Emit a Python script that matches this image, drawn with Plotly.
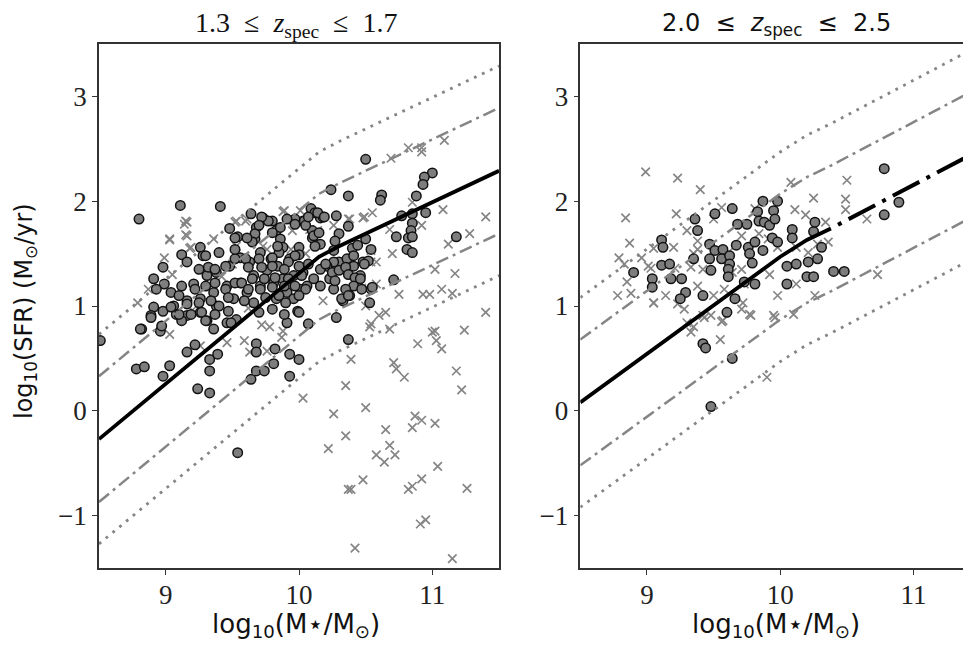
import plotly.graph_objects as go
from plotly.subplots import make_subplots

# ---- 1.3 <= z <= 1.7 panel ----
lo_circ = [
    (8.80, 1.83), (9.11, 1.96), (9.41, 1.95), (10.50, 2.40), (11.00, 2.27), (10.94, 2.23), (10.93, 2.16),
    (10.24, 2.11), (10.37, 2.05), (10.62, 2.06), (10.61, 2.01), (10.88, 2.05), (10.77, 1.86), (10.85, 1.88),
    (10.95, 1.89), (10.85, 1.79), (10.84, 1.72), (10.73, 1.66), (10.82, 1.65), (10.85, 1.66), (10.81, 1.54),
    (10.85, 1.51), (11.18, 1.66), (10.71, 1.25), (10.37, 1.76), (10.30, 1.69), (10.27, 1.62), (10.40, 1.55),
    (10.54, 1.54), (10.48, 1.42), (10.46, 1.29), (10.38, 1.37), (10.38, 1.10), (10.33, 1.05), (10.53, 1.03),
    (10.54, 1.16), (10.28, 1.86), (10.09, 1.93), (10.12, 1.89), (10.16, 1.84), (10.18, 1.85), (10.03, 1.81),
    (9.97, 1.83), (9.91, 1.83), (9.73, 1.84), (9.80, 1.81), (9.64, 1.88), (9.48, 1.74), (9.54, 1.66),
    (9.68, 1.75), (9.67, 1.64), (9.83, 1.72), (9.86, 1.64), (9.88, 1.56), (10.10, 1.72), (10.10, 1.65),
    (10.16, 1.59), (10.00, 1.56), (10.00, 1.49), (9.93, 1.45), (9.26, 1.56), (9.28, 1.48), (9.12, 1.49),
    (9.40, 1.51), (8.98, 1.37), (8.91, 1.26), (8.99, 1.21), (8.93, 1.16), (9.04, 1.13), (9.12, 1.19),
    (9.21, 1.21), (9.31, 1.29), (9.38, 1.32), (9.48, 1.38), (9.56, 1.46), (9.63, 1.42), (9.71, 1.51),
    (9.79, 1.45), (9.84, 1.38), (9.76, 1.34), (9.66, 1.29), (9.56, 1.22), (9.46, 1.19), (9.36, 1.13),
    (9.26, 1.07), (9.16, 1.05), (9.06, 1.00), (8.91, 0.99), (8.89, 0.91), (8.98, 0.95), (9.08, 0.92),
    (9.16, 0.91), (9.26, 0.94), (9.38, 1.00), (9.51, 1.07), (9.61, 1.13), (9.71, 1.19), (9.81, 1.22),
    (9.88, 1.26), (9.96, 1.29), (10.03, 1.32), (10.06, 1.19), (10.01, 1.16), (9.91, 1.13), (9.83, 1.07),
    (9.96, 1.07), (9.99, 0.95), (10.23, 1.26), (10.26, 1.35), (10.30, 1.42), (10.41, 1.38), (10.36, 1.45),
    (10.26, 1.42), (10.21, 1.38), (10.16, 1.35), (10.11, 1.26), (10.16, 1.19), (10.26, 1.16), (10.28, 0.89),
    (10.07, 0.83), (10.26, 1.53),
    (8.51, 0.67), (8.82, 0.78), (8.78, 0.40), (8.84, 0.42), (8.98, 0.33), (9.03, 0.43), (8.96, 0.76),
    (9.12, 0.86), (9.16, 0.56), (9.22, 0.63), (9.24, 0.21), (9.33, 0.17), (9.33, 0.38), (9.33, 0.49),
    (9.39, 0.54), (9.31, 0.86), (9.36, 0.78), (9.46, 0.84), (9.53, 0.87), (9.54, -0.40), (9.64, 0.30),
    (9.68, 0.38), (9.74, 0.38), (9.68, 0.64), (9.68, 0.56), (9.81, 0.45), (9.82, 0.59), (9.93, 0.33),
    (9.93, 0.54), (10.00, 0.49), (9.91, 0.84), (9.89, 0.92), (10.00, 0.94), (10.37, 0.68),
    (9.52, 1.65), (9.30, 1.48), (9.16, 1.42), (9.25, 1.35), (9.32, 1.37), (9.37, 1.35), (9.45, 1.38),
    (9.52, 1.45), (9.22, 1.16), (9.30, 1.19), (9.37, 1.22), (9.45, 1.16), (9.52, 1.22), (9.10, 1.10),
    (9.16, 1.02), (9.25, 1.03), (9.34, 1.05), (9.40, 1.00), (9.47, 1.08), (9.04, 0.99), (9.10, 0.92),
    (9.19, 0.92), (9.27, 0.94), (9.37, 0.92), (9.47, 0.95), (8.89, 0.89), (8.97, 0.81), (8.81, 0.78),
    (9.30, 0.86), (9.49, 0.84), (9.52, 1.54),
    (9.97, 1.78), (10.04, 1.81), (10.05, 1.77), (10.14, 1.89), (10.19, 1.85), (10.07, 1.85), (9.77, 1.81),
    (9.86, 1.75), (10.11, 1.67), (10.15, 1.70), (10.12, 1.57), (9.67, 1.69), (9.65, 1.61), (9.85, 1.51),
    (9.97, 1.48), (9.92, 1.42), (9.80, 1.46), (9.70, 1.45), (9.60, 1.45), (9.62, 1.37), (9.72, 1.37),
    (9.80, 1.38), (9.89, 1.35), (10.00, 1.38), (10.07, 1.40), (10.02, 1.29), (9.92, 1.26), (9.82, 1.27),
    (9.74, 1.26), (9.65, 1.26), (9.57, 1.22), (9.62, 1.16), (9.71, 1.16), (9.80, 1.18), (9.89, 1.19),
    (9.97, 1.19), (10.05, 1.16), (10.00, 1.10), (9.85, 1.10), (9.75, 1.08), (9.66, 1.03), (9.59, 1.05),
    (9.70, 0.94), (9.80, 0.97), (9.90, 1.03), (10.20, 1.40), (10.25, 1.32), (10.30, 1.34), (10.35, 1.37),
    (10.37, 1.30), (10.27, 1.24), (10.42, 1.27), (10.46, 1.26), (10.41, 1.19), (10.35, 1.16), (10.32, 1.07),
    (10.37, 1.10), (10.47, 1.16), (10.55, 1.18), (10.52, 1.43), (10.49, 1.40), (10.41, 1.48), (10.44, 1.58),
    (10.50, 1.64), (9.72, 1.85), (9.80, 1.70), (9.70, 1.77), (9.61, 1.65), (9.84, 1.57),
]
lo_cross = [
    (8.79, 1.03), (8.87, 1.16), (8.99, 1.46), (9.03, 1.64), (9.16, 1.67), (9.16, 1.80), (9.14, 1.78),
    (9.19, 1.56), (9.36, 1.64), (9.53, 1.81), (9.61, 1.83), (9.88, 1.90), (9.95, 1.72), (9.73, 1.57),
    (9.53, 1.57), (10.08, 1.73), (10.26, 1.77), (10.38, 1.83), (10.48, 1.84), (10.55, 1.89), (10.68, 1.73),
    (10.82, 2.51), (10.92, 2.47), (10.92, 2.51), (11.09, 2.58), (10.69, 2.41), (10.85, 1.99), (10.92, 1.77),
    (11.08, 1.92), (11.40, 1.85), (11.28, 1.69), (11.12, 1.59), (11.02, 1.35), (11.17, 1.31), (10.93, 1.11),
    (10.98, 1.11), (11.07, 1.16), (11.15, 1.12), (10.75, 1.11), (10.70, 1.50), (10.54, 1.53), (10.58, 1.42),
    (10.58, 1.21), (10.65, 0.94), (10.60, 0.91), (11.40, 0.94), (10.47, 1.17), (10.53, 0.80),
    (9.03, 0.73), (9.46, 0.65), (9.59, 0.67), (9.63, 0.56), (9.76, 0.57), (9.78, 0.80), (9.88, 0.76),
    (10.68, 0.78), (10.39, 0.49), (10.35, 0.24), (10.03, 0.12), (10.26, -0.03), (10.50, 0.03), (10.35, -0.24),
    (10.22, -0.36), (10.65, -0.18), (10.68, -0.33), (10.72, -0.42), (10.58, -0.42), (10.64, -0.49),
    (10.71, 0.46), (10.73, 0.40), (10.79, 0.32), (10.89, 0.64), (11.00, 0.75), (11.02, 0.76), (11.03, 0.67),
    (11.07, 0.59), (11.24, 0.77), (11.18, 0.38), (11.22, 0.20), (10.87, -0.05), (10.85, -0.16), (10.92, -0.09),
    (11.02, -0.12), (10.48, -0.66), (10.37, -0.75), (10.39, -0.75), (10.82, -0.75), (10.85, -0.72),
    (10.92, -0.65), (11.04, -0.53), (11.26, -0.74), (10.91, -1.08), (10.95, -1.04), (10.42, -1.31),
    (11.15, -1.41),
    (9.15, 1.81), (9.15, 1.68), (9.03, 1.63), (9.18, 1.55), (9.52, 1.80), (9.89, 1.91), (10.01, 1.91),
    (10.14, 1.72), (10.37, 1.83), (10.49, 1.85), (9.60, 1.81), (9.76, 1.54), (9.94, 1.54), (10.54, 1.42),
    (10.50, 1.00), (10.54, 0.83), (9.26, 0.62), (9.42, 1.28), (9.62, 0.98), (9.72, 0.82), (9.87, 0.70),
    (9.20, 0.96), (10.18, 1.05), (9.05, 1.30), (9.50, 1.40), (9.78, 1.25), (10.05, 1.50),
]
lo_ms_x = [8.5, 9.0, 9.5, 10.0, 10.15, 10.3, 10.6, 11.0, 11.5]
lo_ms_y = [-0.27, 0.26, 0.79, 1.32, 1.47, 1.57, 1.75, 1.99, 2.29]

# ---- 2.0 <= z <= 2.5 panel ----
hi_circ = [
    (8.90, 1.32), (9.11, 1.63), (9.12, 1.56), (9.11, 1.39), (9.17, 1.40), (9.04, 1.26), (9.04, 1.18),
    (9.18, 1.26), (9.26, 1.26), (9.29, 1.13), (9.25, 1.07), (9.36, 1.83), (9.38, 1.72), (9.35, 1.45),
    (9.42, 1.10), (9.47, 1.59), (9.47, 1.45), (9.48, 1.34), (9.51, 1.88), (9.51, 1.53), (9.57, 1.54),
    (9.56, 1.45), (9.62, 1.48), (9.62, 1.40), (9.61, 1.35), (9.61, 1.28), (9.64, 1.93), (9.68, 1.78),
    (9.67, 1.58), (9.66, 1.07), (9.60, 0.94), (9.75, 1.78), (9.73, 1.23), (9.76, 1.56), (9.77, 1.50),
    (9.79, 1.41), (9.81, 1.61), (9.81, 1.21), (9.83, 1.90), (9.87, 2.00), (9.87, 1.53), (9.84, 1.81),
    (9.88, 1.80), (9.92, 1.77), (9.94, 1.65), (9.95, 1.91), (9.96, 1.83), (9.98, 2.00), (9.98, 1.61),
    (10.05, 1.38), (10.05, 1.21), (10.09, 1.73), (10.09, 1.65), (10.12, 1.40), (10.20, 1.28), (10.21, 1.42),
    (10.25, 1.28), (10.25, 1.71), (10.26, 1.80), (10.28, 1.45), (10.31, 1.56), (10.40, 1.33), (10.48, 1.33),
    (10.78, 2.31), (10.78, 1.87), (10.89, 1.99), (9.42, 0.64), (9.44, 0.60), (9.64, 0.50), (9.48, 0.04),
]
hi_cross = [
    (8.99, 2.28), (9.23, 2.22), (9.40, 2.11), (8.84, 1.84), (8.87, 1.60), (8.79, 1.46), (8.83, 1.40),
    (8.85, 1.23), (8.78, 1.10), (8.88, 1.12), (8.96, 1.46), (9.01, 1.38), (9.05, 1.55), (9.03, 1.36),
    (9.05, 1.03), (9.14, 1.10), (9.20, 1.56), (9.22, 1.88), (9.21, 1.36), (9.23, 1.02), (9.28, 0.97),
    (9.30, 1.72), (9.35, 1.50), (9.38, 1.54), (9.33, 1.37), (9.30, 0.84), (9.35, 0.80), (9.38, 1.62),
    (9.42, 1.35), (9.38, 1.19), (9.50, 1.10), (9.42, 0.91), (9.50, 1.83), (9.56, 1.94), (9.57, 0.86),
    (9.58, 1.16), (9.61, 1.51), (9.64, 1.32), (9.71, 1.35), (9.71, 1.67), (9.73, 1.21), (9.72, 1.03),
    (9.78, 0.91), (9.81, 1.93), (9.84, 1.69), (9.91, 1.64), (9.92, 1.30), (9.98, 1.10), (9.98, 1.56),
    (9.95, 0.91), (10.08, 2.18), (10.11, 1.92), (10.10, 0.92), (10.12, 1.21), (10.19, 1.87), (10.21, 1.51),
    (10.25, 2.03), (10.26, 1.10), (10.28, 1.59), (10.34, 1.80), (10.36, 1.61), (10.49, 2.02), (10.49, 1.92),
    (10.50, 2.20), (10.65, 1.83), (10.73, 1.30), (10.12, 1.56), (9.05, 1.03), (9.33, 0.75), (9.55, 0.68),
    (9.43, 0.89), (9.48, 0.91), (9.56, 0.85), (9.71, 0.97), (9.77, 0.92), (9.96, 0.89), (9.90, 0.32),
]
hi_ms_x = [8.5, 9.0, 9.5, 10.0, 10.2, 10.38]
hi_ms_y = [0.08, 0.545, 1.01, 1.47, 1.63, 1.74]
hi_ext_x = [10.38, 10.8, 11.5]
hi_ext_y = [1.74, 2.02, 2.49]

scatter_offsets = [0.6, -0.6]
outer_offsets = [1.0, -1.0]

GREY = "#858585"
serif = "Liberation Serif"
sans = "DejaVu Sans"

fig = make_subplots(rows=1, cols=2)


def add_panel(col, circ, cross, line_x, line_y, ext_x=None, ext_y=None):
    fig.add_trace(go.Scatter(x=[p[0] for p in cross], y=[p[1] for p in cross], mode="markers",
                             marker=dict(symbol="x-thin", size=8.5, line=dict(color=GREY, width=1.7)),
                             showlegend=False), row=1, col=col)
    fig.add_trace(go.Scatter(x=[p[0] for p in circ], y=[p[1] for p in circ], mode="markers",
                             marker=dict(symbol="circle", size=9.5, color="#7d7d7d",
                                         line=dict(color="#111111", width=1.5)),
                             showlegend=False), row=1, col=col)
    full_x = line_x + (ext_x[1:] if ext_x else [])
    full_y = line_y + (ext_y[1:] if ext_y else [])
    for off in scatter_offsets:
        fig.add_trace(go.Scatter(x=full_x, y=[v + off for v in full_y], mode="lines",
                                 line=dict(color=GREY, width=2.5, dash="13px,5px,3px,5px"),
                                 showlegend=False), row=1, col=col)
    for off in outer_offsets:
        fig.add_trace(go.Scatter(x=full_x, y=[v + off for v in full_y], mode="lines",
                                 line=dict(color=GREY, width=2.8, dash="2.8px,6px"),
                                 showlegend=False), row=1, col=col)
    fig.add_trace(go.Scatter(x=line_x, y=line_y, mode="lines",
                             line=dict(color="black", width=3.8), showlegend=False), row=1, col=col)
    if ext_x:
        # extrapolated part: starts with a gap and a dot, then a long dash
        fig.add_trace(go.Scatter(x=ext_x, y=ext_y, mode="lines",
                                 line=dict(color="black", width=4, dash="0px,8px,4px,8px,30px,0px"),
                                 showlegend=False), row=1, col=col)


add_panel(1, lo_circ, lo_cross, lo_ms_x, lo_ms_y)
add_panel(2, hi_circ, hi_cross, hi_ms_x, hi_ms_y, hi_ext_x, hi_ext_y)

# the page body adds an 8px margin, so the figure is laid out 8px smaller
OFF = 8
W, H = 971 - OFF, 645 - OFF


def fx(px):
    return (px - OFF) / W


def fy(py):
    return 1 - (py - OFF) / H


axis_common = dict(showgrid=False, zeroline=False, showline=True, linecolor="#333333", linewidth=1.5,
                   ticks="outside", ticklen=5, tickwidth=1.2, tickcolor="#333333",
                   tickfont=dict(family=serif, size=27, color="#222222"))

fig.update_xaxes(**axis_common, range=[8.5, 11.5], tickvals=[9, 10, 11], mirror=True,
                 ticklabelstandoff=-3, row=1, col=1)
fig.update_xaxes(**axis_common, range=[8.5, 8.5 + (971 - 580.3) / 133.3], tickvals=[9, 10, 11],
                 mirror=True, ticklabelstandoff=-3, row=1, col=2)
fig.update_yaxes(**axis_common, range=[-1.5, 3.5], tickvals=[-1, 0, 1, 2, 3], mirror=True, row=1, col=1)
fig.update_yaxes(**axis_common, range=[-1.5, 3.5], tickvals=[-1, 0, 1, 2, 3], mirror=False, row=1, col=2)

fig.update_layout(
    width=W, height=H, margin=dict(l=0, r=0, t=0, b=0),
    plot_bgcolor="white", paper_bgcolor="white",
    xaxis=dict(domain=[fx(99), fx(499)]),
    xaxis2=dict(domain=[fx(580.3), 1.0]),
    yaxis=dict(domain=[fy(568), fy(44)]),
    yaxis2=dict(domain=[fy(568), fy(44)]),
)

zspec = "<i>z</i><sub>spec</sub>"
texts = [
    (296, 24, "1.3 &nbsp;≤&nbsp; " + zspec + " &nbsp;≤&nbsp; 1.7", serif, 28, 0),
    (776, 24, "2.0 &nbsp;≤&nbsp; " + zspec + " &nbsp;≤&nbsp; 2.5", sans, 24, 0),
    (296, 625, "log<sub>10</sub>(M⋆/M<sub>⊙</sub>)", sans, 26, 0),
    (776, 625, "log<sub>10</sub>(M⋆/M<sub>⊙</sub>)", sans, 26, 0),
    (25, 311, "log<sub>10</sub>(SFR) (M<sub>⊙</sub>/yr)", sans, 24, -90),
]
for x, y, t, fam, sz, ang in texts:
    fig.add_annotation(x=fx(x), y=fy(y), xref="paper", yref="paper", text=t, showarrow=False,
                       font=dict(family=fam, size=sz, color="#111111"), textangle=ang,
                       xanchor="center", yanchor="middle")

fig.write_html("out.html")
